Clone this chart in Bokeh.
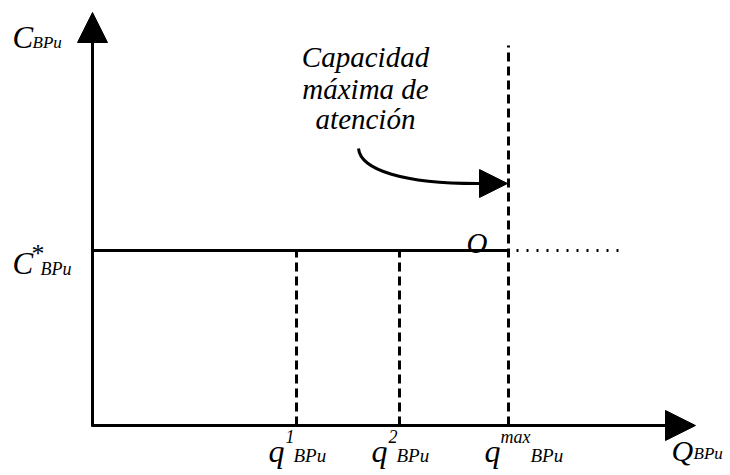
from bokeh.plotting import figure
from bokeh.models import Arrow, NormalHead, Range1d
from bokeh.core.properties import value
from bokeh.embed import file_html
from bokeh.resources import INLINE

# ---- data (diagram units, origin at axes intersection) ----
q_names = ["1", "2", "max"]
q_values = [204, 307, 416]          # q1, q2, qmax along Q axis
c_star = 175                        # C* level
y_axis_top = 413
x_axis_end = 603
dotted_end = 533
qmax_top = 380
note_lines = ["Capacidad", "máxima de", "atención"]

FONT = value("Liberation Serif")

p = figure(width=730, height=475, x_range=Range1d(-92, 638), y_range=Range1d(-50, 425),
           output_backend="svg", toolbar_location=None, min_border=0,
           x_axis_location=None, y_axis_location=None)
p.grid.visible = False
p.outline_line_color = None

# axes with arrow heads
p.add_layout(Arrow(end=NormalHead(size=30, fill_color="black", line_color="black"),
                   x_start=0, y_start=-1, x_end=0, y_end=y_axis_top, line_width=3, line_color="black"))
p.add_layout(Arrow(end=NormalHead(size=30, fill_color="black", line_color="black"),
                   x_start=-1, y_start=0, x_end=x_axis_end, y_end=0, line_width=3, line_color="black"))

qmax = q_values[2]
p.line([0, qmax], [c_star, c_star], line_width=3, line_color="black")
p.line([qmax + 8, dotted_end], [c_star, c_star], line_width=3, line_color="black", line_dash="2 8")
p.line([q_values[0], q_values[0]], [0, c_star], line_width=3, line_color="black", line_dash="9 5")
p.line([q_values[1], q_values[1]], [0, c_star], line_width=3, line_color="black", line_dash="9 5")
p.line([qmax, qmax], [0, qmax_top], line_width=3, line_color="black", line_dash="9 5")

# curved arrow
tip_y = 242
p.bezier(x0=[266], y0=[277], x1=[392], y1=[tip_y], cx0=[268], cy0=[256], cx1=[310], cy1=[241],
         line_width=3, line_color="black")
p.add_layout(Arrow(end=NormalHead(size=28, fill_color="black", line_color="black"),
                   x_start=388, y_start=tip_y, x_end=qmax - 1, y_end=tip_y, line_width=3, line_color="black"))

# annotation text
note_y = [369, 337, 307]
p.text(x=[273] * 3, y=note_y, text=note_lines, text_font=FONT, text_font_style="italic",
       text_font_size="29px", text_align="center", text_baseline="alphabetic", text_color="black")

# O label
p.text(x=[qmax - 42], y=[c_star + 8], text=["O"], text_font=FONT, text_font_style="italic",
       text_font_size="29px", text_baseline="alphabetic")

# y-axis label C_BPu
p.text(x=[-80], y=[388], text=["C"], text_font=FONT, text_font_style="italic",
       text_font_size="31px", text_baseline="alphabetic")
p.text(x=[-60], y=[383], text=["BPu"], text_font=FONT, text_font_style="italic",
       text_font_size="17px", text_baseline="alphabetic")

# C*_BPu
p.text(x=[-80], y=[c_star - 13], text=["C"], text_font=FONT, text_font_style="italic",
       text_font_size="31px", text_baseline="alphabetic")
p.text(x=[-61], y=[c_star - 3], text=["*"], text_font=FONT,
       text_font_size="26px", text_baseline="alphabetic")
p.text(x=[-52], y=[c_star - 18], text=["BPu"], text_font=FONT, text_font_style="italic",
       text_font_size="18px", text_baseline="alphabetic")

# q labels
q_dx = [-28, -28, -24]
sup_dx = [-11, -11, -8]
sub_dx = [-3, -3, 22]
for qv, nm, qd, sd, bd in zip(q_values, q_names, q_dx, sup_dx, sub_dx):
    p.text(x=[qv + qd], y=[-25], text=["q"], text_font=FONT, text_font_style="italic",
           text_font_size="32px", text_baseline="alphabetic")
    p.text(x=[qv + sd], y=[-11], text=[nm], text_font=FONT, text_font_style="italic",
           text_font_size="18px", text_baseline="alphabetic")
    p.text(x=[qv + bd], y=[-30], text=["BPu"], text_font=FONT, text_font_style="italic",
           text_font_size="19px", text_baseline="alphabetic")

# Q_BPu
p.text(x=[579], y=[-25], text=["Q"], text_font=FONT, text_font_style="italic",
       text_font_size="30px", text_baseline="alphabetic")
p.text(x=[601], y=[-28], text=["BPu"], text_font=FONT, text_font_style="italic",
       text_font_size="17px", text_baseline="alphabetic")

open("out.html", "w").write(file_html(p, INLINE))
